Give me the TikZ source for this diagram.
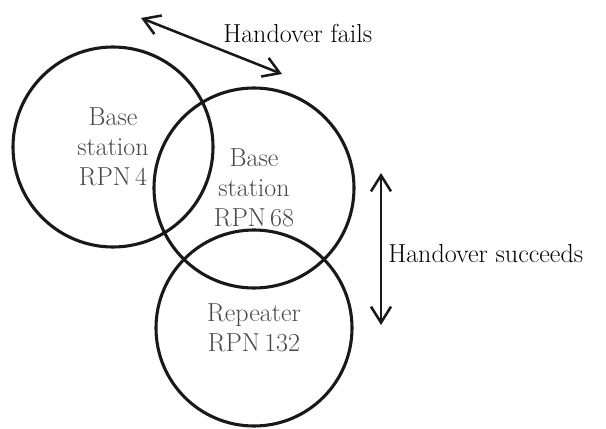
\documentclass[tikz,border=0pt]{standalone}
\usepackage{tikz}
\usetikzlibrary{arrows.meta}

\begin{document}
\begin{tikzpicture}[
    cell/.style={circle,draw=black!90,line width=2.2pt,minimum size=5cm,inner sep=0pt,align=center,
      font=\fontsize{18.5}{21.3}\selectfont,text=black!72},
    lbl/.style={inner sep=0pt,font=\fontsize{18.5}{21.3}\selectfont},
    arr/.style={line width=1.8pt,draw=black!90,
      {Straight Barb[length=4mm,width=5mm]}-{Straight Barb[length=4mm,width=5mm]}}]
  \useasboundingbox (0,0) rectangle (15.15,10.7);
  \node[cell](bs4) at (2.825,7.025){Base\\station\\RPN\,4};
  \node[cell](bs68) at (6.35,6.0){Base\\station\\RPN\,68};
  \node[cell,minimum size=4.9cm](rep) at (6.35,2.5){Repeater\\RPN\,132};
  \coordinate (f1) at (3.525,10.25);
  \coordinate (f2) at (7.05,8.85);
  \draw[arr](f1)--(f2);
  \node[lbl,anchor=base west](fails) at (5.575,9.625){Handover fails};
  \coordinate (s1) at (9.525,6.375);
  \coordinate (s2) at (9.525,2.575);
  \draw[arr](s1)--(s2);
  \node[lbl,anchor=base west](succ) at (9.7,4.15){Handover succeeds};
\end{tikzpicture}
\end{document}
